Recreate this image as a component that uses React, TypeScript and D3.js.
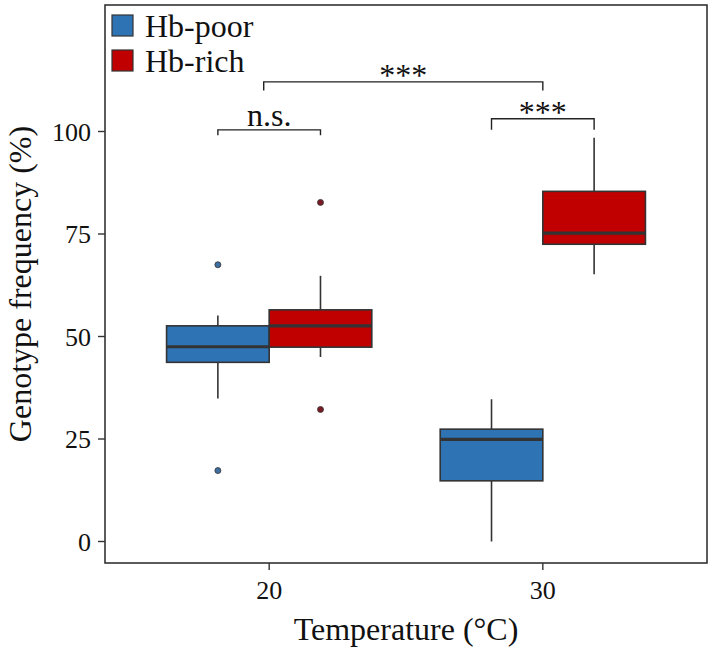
import React from "react";
import * as d3 from "d3";

const groups = ["20", "30"];
const seriesNames = ["Hb-poor", "Hb-rich"];
const seriesColors = ["#2E74B5", "#C00000"];
const outlierColors = ["#3E6EA0", "#7A1A24"];

// box statistics per series, per temperature group
const poorLow = [34.9, 0];
const poorQ1 = [43.7, 14.8];
const poorMed = [47.5, 24.9];
const poorQ3 = [52.6, 27.4];
const poorHigh = [55.1, 34.7];
const poorOutliers = [[67.5, 17.3], []];

const richLow = [45.0, 65.2];
const richQ1 = [47.4, 72.5];
const richMed = [52.6, 75.2];
const richQ3 = [56.5, 85.4];
const richHigh = [64.8, 98.5];
const richOutliers = [[82.7, 32.2], []];

const yTicks = [0, 25, 50, 75, 100];

// significance brackets
const bracketX1 = [0.8125, 0.98, 1.8125];
const bracketX2 = [1.1875, 2.0, 2.1875];
const bracketY = [100.4, 112.1, 103.1];
const bracketTip = [99.1, 110.0, 100.4];
const bracketLabels = ["n.s.", "***", "***"];

const W = 709;
const H = 649;
const panel = { left: 105, right: 707, top: 5, bottom: 563 };
const font = "'Liberation Serif', 'Times New Roman', serif";
const dark = "#333333";

export default function App() {
  const x = d3.scaleLinear().domain([0.4, 2.6]).range([panel.left, panel.right]);
  const y = d3.scaleLinear().domain([0, 100]).range([541.5, 131.5]);
  const boxW = x(0.375) - x(0);

  const series = [
    { low: poorLow, q1: poorQ1, med: poorMed, q3: poorQ3, high: poorHigh, out: poorOutliers },
    { low: richLow, q1: richQ1, med: richMed, q3: richQ3, high: richHigh, out: richOutliers },
  ];

  return (
    <div style={{ position: "absolute", left: 0, top: 0 }}>
      <svg width={W} height={H} style={{ display: "block", background: "#fff" }}>
        {/* boxes */}
        {series.map((s, si) =>
          groups.map((g, gi) => {
            const cx = x(gi + 1 + (si === 0 ? -0.1875 : 0.1875));
            return (
              <g key={`${si}-${gi}`}>
                <line x1={cx} x2={cx} y1={y(s.q3[gi])} y2={y(s.high[gi])} stroke={dark} strokeWidth={1.6} />
                <line x1={cx} x2={cx} y1={y(s.q1[gi])} y2={y(s.low[gi])} stroke={dark} strokeWidth={1.6} />
                <rect
                  x={cx - boxW / 2}
                  y={y(s.q3[gi])}
                  width={boxW}
                  height={y(s.q1[gi]) - y(s.q3[gi])}
                  fill={seriesColors[si]}
                  stroke={dark}
                  strokeWidth={1.6}
                />
                <line
                  x1={cx - boxW / 2}
                  x2={cx + boxW / 2}
                  y1={y(s.med[gi])}
                  y2={y(s.med[gi])}
                  stroke={dark}
                  strokeWidth={3.2}
                />
                {s.out[gi].map((v, k) => (
                  <circle key={k} cx={cx} cy={y(v)} r={3} fill={outlierColors[si]} stroke={dark} strokeWidth={0.8} />
                ))}
              </g>
            );
          })
        )}

        {/* brackets */}
        {bracketLabels.map((lab, i) => {
          const x1 = x(bracketX1[i]);
          const x2 = x(bracketX2[i]);
          const yl = y(bracketY[i]);
          const yt = y(bracketTip[i]);
          const isStar = lab.startsWith("*");
          return (
            <g key={i}>
              <path
                d={`M${x1},${yt}V${yl}H${x2}V${yt}`}
                fill="none"
                stroke="#222"
                strokeWidth={1.4}
              />
              <text
                x={(x1 + x2) / 2}
                y={isStar ? yl + 4 : yl - 4}
                textAnchor="middle"
                fontFamily={font}
                fontSize={32}
                fill="#111"
              >
                {lab}
              </text>
            </g>
          );
        })}

        {/* panel border */}
        <rect
          x={panel.left}
          y={panel.top}
          width={panel.right - panel.left}
          height={panel.bottom - panel.top}
          fill="none"
          stroke={dark}
          strokeWidth={1.6}
        />

        {/* y axis */}
        {yTicks.map((t) => (
          <g key={t}>
            <line x1={panel.left - 7} x2={panel.left} y1={y(t)} y2={y(t)} stroke={dark} strokeWidth={1.4} />
            <text
              x={panel.left - 14}
              y={y(t)}
              dy="0.35em"
              textAnchor="end"
              fontFamily={font}
              fontSize={26}
              fill="#111"
            >
              {t}
            </text>
          </g>
        ))}

        {/* x axis */}
        {groups.map((g, gi) => (
          <g key={g}>
            <line x1={x(gi + 1)} x2={x(gi + 1)} y1={panel.bottom} y2={panel.bottom + 7} stroke={dark} strokeWidth={1.4} />
            <text x={x(gi + 1)} y={599} textAnchor="middle" fontFamily={font} fontSize={26} fill="#111">
              {g}
            </text>
          </g>
        ))}

        {/* axis titles */}
        <text x={(panel.left + panel.right) / 2} y={640} textAnchor="middle" fontFamily={font} fontSize={32} fill="#111">
          Temperature (°C)
        </text>
        <text
          transform={`translate(31,${(panel.top + panel.bottom) / 2}) rotate(-90)`}
          textAnchor="middle"
          fontFamily={font}
          fontSize={32}
          fill="#111"
        >
          Genotype frequency (%)
        </text>

        {/* legend */}
        {seriesNames.map((n, i) => (
          <g key={n}>
            <rect x={112} y={15 + i * 35} width={21} height={21} fill={seriesColors[i]} stroke={dark} strokeWidth={1.2} />
            <text x={145} y={37 + i * 35} fontFamily={font} fontSize={32} fill="#111">
              {n}
            </text>
          </g>
        ))}
      </svg>
    </div>
  );
}
